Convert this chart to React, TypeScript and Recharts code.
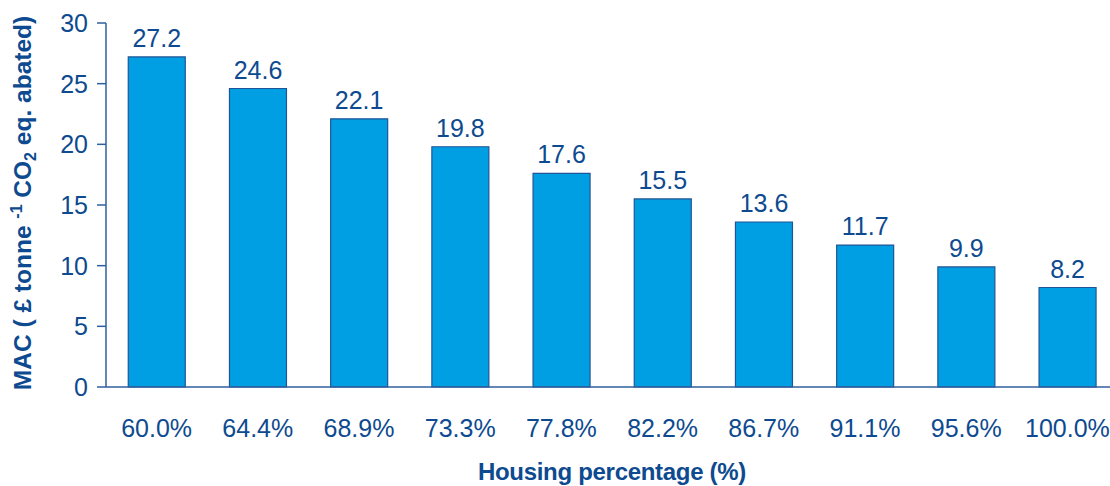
import { BarChart, Bar, XAxis, YAxis, LabelList } from 'recharts';

const categories = ['60.0%', '64.4%', '68.9%', '73.3%', '77.8%', '82.2%', '86.7%', '91.1%', '95.6%', '100.0%'];
const macValues = [27.2, 24.6, 22.1, 19.8, 17.6, 15.5, 13.6, 11.7, 9.9, 8.2];
const yTicks = [0, 5, 10, 15, 20, 25, 30];

const data = categories.map((c, i) => ({ housing: c, mac: macValues[i] }));

const TEXT = '#0D4A8F';
const AXIS = '#2F5F9E';
const FONT = 'Liberation Sans, Arial, sans-serif';

function YLabel() {
  return (
    <text
      transform="translate(31, 203) rotate(-90)"
      textAnchor="middle"
      fill={TEXT}
      fontFamily={FONT}
      fontWeight="bold"
      fontSize={24.5}
    >
      <tspan>MAC ( £ tonne </tspan>
      <tspan fontSize={16} dy={-9}>-1</tspan>
      <tspan dy={9}> CO</tspan>
      <tspan fontSize={16} dy={5}>2</tspan>
      <tspan dy={-5}> eq. abated)</tspan>
    </text>
  );
}

function XLabel() {
  return (
    <text x={612} y={480} textAnchor="middle" fill={TEXT} fontFamily={FONT} fontWeight="bold" fontSize={24} letterSpacing={-0.3}>
      Housing percentage (%)
    </text>
  );
}

export default function App() {
  return (
    <div style={{ position: 'absolute', left: 0, top: 0, width: 1110, height: 486, overflow: 'hidden', background: '#fff' }}>
      <BarChart width={1130} height={486} data={data} margin={{ top: 23, right: 12, left: 0, bottom: 0 }} barCategoryGap="22%">
        <XAxis
          dataKey="housing"
          height={99}
          tickLine={false}
          axisLine={{ stroke: AXIS, strokeWidth: 1.5 }}
          tick={{ fill: TEXT, fontSize: 25, fontFamily: FONT, dy: 24 }}
          interval={0}
          label={<XLabel />}
        />
        <YAxis
          width={106}
          domain={[0, 30]}
          ticks={yTicks}
          tickSize={9}
          tickLine={{ stroke: AXIS, strokeWidth: 1.5 }}
          axisLine={{ stroke: AXIS, strokeWidth: 1.5 }}
          tick={{ fill: TEXT, fontSize: 25, fontFamily: FONT, dx: -7 }}
          label={<YLabel />}
        />
        <Bar dataKey="mac" fill="#009FE3" stroke="#1F5596" strokeWidth={1.2} isAnimationActive={false}>
          <LabelList dataKey="mac" position="top" offset={10} fill={TEXT} fontSize={25} fontFamily={FONT} />
        </Bar>
      </BarChart>
    </div>
  );
}
